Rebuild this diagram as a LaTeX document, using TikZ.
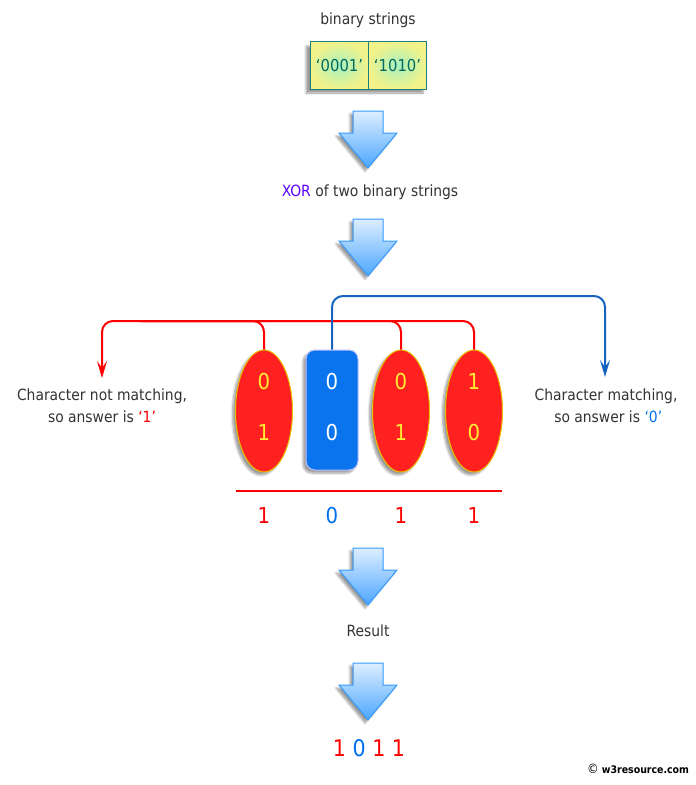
\documentclass[tikz,border=0pt]{standalone}
\usepackage{fontspec}
\setmainfont{DejaVu Sans Condensed}
\usetikzlibrary{arrows.meta,shadows.blur,shapes.geometric}
\definecolor{txt}{HTML}{333333}
\definecolor{xorc}{HTML}{5A00FF}
\definecolor{teal1}{HTML}{1F7F7F}
\definecolor{tealtxt}{HTML}{006A60}
\definecolor{cellin}{HTML}{A8F2C0}
\definecolor{cellout}{HTML}{F2F28A}
\definecolor{redfill}{HTML}{FF2020}
\definecolor{goldline}{HTML}{E6C200}
\definecolor{digy}{HTML}{FFEE33}
\definecolor{bluefill}{HTML}{0A74EE}
\definecolor{blueline}{HTML}{1565C0}
\definecolor{bluetxt}{HTML}{0070F0}
\definecolor{redc}{HTML}{FF0000}
\definecolor{arrtop}{HTML}{DDEEFF}
\definecolor{arrbot}{HTML}{4DA6FF}
\definecolor{arrline}{HTML}{3399FF}
\tikzset{
  lbl/.style={text=txt, font=\fontsize{15.5}{22}\selectfont, inner sep=0pt, align=center},
  cell/.style={draw=teal1, line width=1bp, inner color=cellin, outer color=cellout,
    minimum width=58bp, minimum height=47bp, inner sep=0pt, text=tealtxt,
    font=\fontsize{16.5}{18}\selectfont},
  ell/.style={ellipse, draw=goldline, line width=1bp, fill=redfill, minimum width=57bp,
    minimum height=122bp, inner sep=0pt,
    blur shadow={shadow xshift=-3bp, shadow yshift=-3bp, shadow blur steps=6}},
  bbox/.style={rectangle, rounded corners=9bp, draw=blue!25!white, line width=1bp,
    fill=bluefill, minimum width=52bp, minimum height=120bp, inner sep=0pt,
    blur shadow={shadow xshift=-3bp, shadow yshift=-3bp, shadow blur steps=6}},
  dig/.style={inner sep=0pt, font=\fontsize{22}{24}\selectfont},
  redconn/.style={draw=redc, line width=2bp, rounded corners=11bp},
  blueconn/.style={draw=blueline, line width=2bp, rounded corners=11bp},
  tip/.style={-{Stealth[length=17bp, width=10bp, inset=7bp]}},
  bigarrow/.pic={
    \path[top color=arrtop, bottom color=arrbot, draw=arrline, line width=1bp,
      blur shadow={shadow xshift=-3bp, shadow yshift=-3bp, shadow blur steps=6}]
      (-15,0) -- (15,0) -- (15,22) -- (29,22) -- (0,57) -- (-29,22) -- (-15,22) -- cycle;
  }
}
\begin{document}
\begin{tikzpicture}[x=1bp,y=-1bp]
\useasboundingbox (0,0) rectangle (696,785);

% title and strings
\node[lbl] (title) at (368,20) {binary strings};
\node[minimum width=117bp, minimum height=47bp, fill=white,
  blur shadow={shadow xshift=-4bp, shadow yshift=-4bp, shadow blur steps=6}] (strbox) at (368.5,65.5) {};
\node[cell] (s1) at (339.5,65.5) {‘0001’};
\node[cell] (s2) at (397.5,65.5) {‘1010’};

% arrows
\pic at (368,111) {bigarrow};
\node[lbl] (xor) at (370,192) {\textcolor{xorc}{XOR} of two binary strings};
\pic at (368,219) {bigarrow};

% elements
\node[ell] (e1) at (264,411) {};
\node[bbox] (b2) at (332,410) {};
\node[ell] (e3) at (401,411) {};
\node[ell] (e4) at (474,411) {};

\node[dig, text=digy] (e1a) at (264,382) {0};
\node[dig, text=digy] (e1b) at (264,433) {1};
\node[dig, text=white] (b2a) at (332,382) {0};
\node[dig, text=white] (b2b) at (332,433) {0};
\node[dig, text=digy] (e3a) at (401,382) {0};
\node[dig, text=digy] (e3b) at (401,433) {1};
\node[dig, text=digy] (e4a) at (474,382) {1};
\node[dig, text=digy] (e4b) at (474,433) {0};

% connectors
\coordinate (rl) at (102,321);
\coordinate (rj) at (140,321);
\coordinate (lt) at (102,378);
\coordinate (rc) at (605,296);
\coordinate (rt) at (605,377);
\draw[redconn] (e1.north) |- (rj);
\draw[redconn] (e3.north) |- (rj);
\draw[redconn, tip] (e4.north) |- (rl) -- (lt);
\draw[blueconn, tip] (b2.north) |- (rc) -- (rt);

\node[lbl] (ltext) at (102,406) {Character not matching,\\so answer is \textcolor{redc}{‘1’}};
\node[lbl] (rtext) at (606,406) {Character matching,\\\ so answer is \textcolor{bluetxt}{‘0’}};

% underline and results
\coordinate (ul) at (236,491);
\coordinate (ur) at (502,491);
\draw[redc, line width=1.5bp] (ul) -- (ur);
\node[dig, text=redc] (r1) at (264,516) {1};
\node[dig, text=bluetxt] (r2) at (332,516) {0};
\node[dig, text=redc] (r3) at (401,516) {1};
\node[dig, text=redc] (r4) at (474,516) {1};

\pic at (368,548) {bigarrow};
\node[lbl] (result) at (368,631) {Result};
\pic at (368,663) {bigarrow};

\node[dig, font=\fontsize{23}{24}\selectfont] (final) at (369,748) {\textcolor{redc}{1} \textcolor{bluetxt}{0} \textcolor{redc}{1} \textcolor{redc}{1}};

\node[inner sep=0pt, font=\fontsize{10.5}{12}\selectfont\bfseries] (copy) at (638,769) {\fontsize{13}{12}\selectfont\mdseries ©\fontsize{10.5}{12}\selectfont\bfseries\ w3resource.com};
\end{tikzpicture}
\end{document}
